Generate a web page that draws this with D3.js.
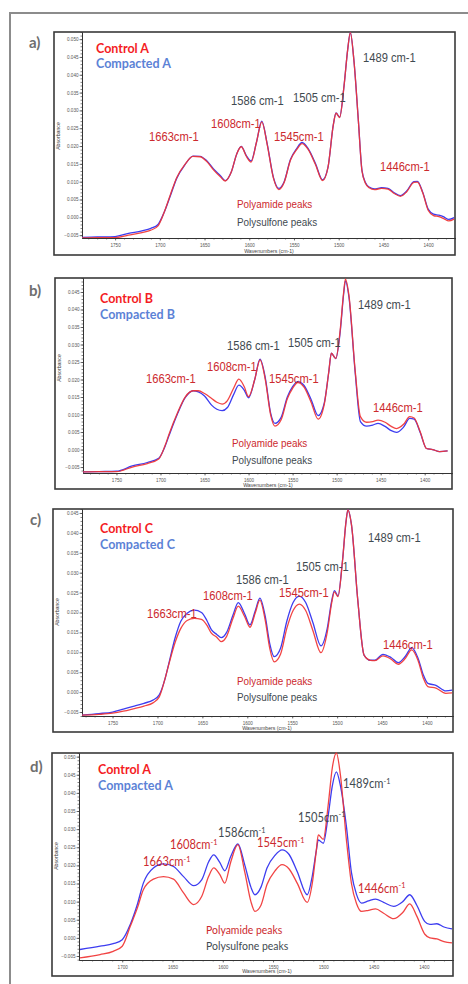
<!DOCTYPE html>
<html>
<head>
<meta charset="utf-8">
<script src="https://cdn.jsdelivr.net/npm/d3@7"></script>
<style>
  html, body { margin: 0; padding: 0; background: #fff; }
  svg { display: block; }
</style>
</head>
<body>
<svg id="fig" width="468" height="984"></svg>
<script>
// ---------------- FTIR spectra: absorbance vs wavenumber (cm-1) ----------------

// Panel a
const wavenumbersA = [1787,1770,1750,1735,1720,1710,1702,1695,1688,1681,1672,1663,1655,1648,1640,1632,1627,1620,1614,1609,1603,1598,1592,1586,1580,1573,1567,1561,1554,1547,1541,1534,1526,1518,1512,1506,1503,1499,1494,1490,1487,1483,1478,1474,1470,1466,1460,1452,1445,1438,1431,1424,1416,1412,1406,1400,1394,1388,1383,1377,1371];
const controlA   = [-0.0058,-0.0057,-0.0057,-0.0050,-0.0043,-0.0036,-0.0024,0.0015,0.0065,0.0112,0.0148,0.0171,0.0170,0.0158,0.0133,0.0113,0.0102,0.0128,0.0178,0.0198,0.0170,0.0155,0.0210,0.0268,0.0205,0.0110,0.0078,0.0098,0.0160,0.0190,0.0207,0.0190,0.0148,0.0103,0.0140,0.0260,0.0292,0.0280,0.0370,0.0470,0.0518,0.0440,0.0270,0.0130,0.0095,0.0083,0.0078,0.0081,0.0079,0.0067,0.0059,0.0072,0.0098,0.0099,0.0068,0.0020,0.0005,0.0002,-0.0003,-0.0010,-0.0005];
const compactedA = [-0.0056,-0.0055,-0.0054,-0.0045,-0.0038,-0.0031,-0.0020,0.0015,0.0062,0.0110,0.0147,0.0172,0.0171,0.0160,0.0136,0.0116,0.0103,0.0128,0.0178,0.0199,0.0172,0.0158,0.0210,0.0270,0.0207,0.0112,0.0081,0.0100,0.0162,0.0193,0.0210,0.0192,0.0151,0.0105,0.0140,0.0260,0.0293,0.0281,0.0370,0.0470,0.0518,0.0440,0.0270,0.0132,0.0097,0.0085,0.0080,0.0083,0.0081,0.0069,0.0061,0.0074,0.0100,0.0101,0.0070,0.0023,0.0009,0.0006,0.0002,-0.0006,-0.0001];

// Panel b
const wavenumbersB = [1788,1770,1750,1732,1715,1702,1695,1690,1681,1672,1663,1657,1650,1642,1636,1630,1624,1617,1611,1605,1600,1593,1587,1581,1575,1570,1563,1556,1550,1544,1537,1529,1521,1514,1509,1506,1501,1496,1492,1490,1486,1479,1473,1466,1459,1453,1445,1438,1432,1424,1417,1412,1405,1398,1391,1383,1374];
const controlB   = [-0.0064,-0.0063,-0.0063,-0.0050,-0.0040,-0.0027,0.0010,0.0046,0.0103,0.0150,0.0168,0.0168,0.0160,0.0146,0.0135,0.0130,0.0140,0.0175,0.0201,0.0180,0.0151,0.0200,0.0256,0.0200,0.0100,0.0067,0.0085,0.0145,0.0175,0.0191,0.0178,0.0135,0.0087,0.0130,0.0220,0.0275,0.0260,0.0340,0.0450,0.0487,0.0440,0.0227,0.0094,0.0078,0.0080,0.0084,0.0078,0.0066,0.0060,0.0072,0.0094,0.0090,0.0050,0.0003,0.0000,-0.0006,-0.0004];
const compactedB = [-0.0064,-0.0063,-0.0062,-0.0047,-0.0037,-0.0025,0.0008,0.0042,0.0100,0.0148,0.0168,0.0165,0.0153,0.0127,0.0115,0.0111,0.0120,0.0157,0.0184,0.0170,0.0148,0.0200,0.0258,0.0205,0.0105,0.0075,0.0092,0.0150,0.0180,0.0194,0.0183,0.0143,0.0097,0.0133,0.0220,0.0275,0.0260,0.0335,0.0445,0.0482,0.0435,0.0222,0.0080,0.0067,0.0070,0.0075,0.0066,0.0054,0.0049,0.0064,0.0089,0.0087,0.0048,0.0003,0.0000,-0.0006,-0.0004];

// Panel c
const wavenumbersC = [1785,1765,1750,1738,1727,1715,1705,1698,1692,1688,1680,1674,1667,1659,1651,1645,1640,1634,1629,1623,1616,1610,1603,1597,1591,1586,1580,1575,1570,1563,1556,1549,1542,1535,1527,1518,1511,1506,1503,1499,1494,1490,1488,1484,1477,1470,1463,1458,1449,1440,1432,1424,1417,1410,1404,1399,1390,1379,1372];
const controlC   = [-0.0058,-0.0056,-0.0053,-0.0048,-0.0042,-0.0035,-0.0027,-0.0012,0.0030,0.0064,0.0127,0.0160,0.0180,0.0185,0.0183,0.0168,0.0148,0.0138,0.0127,0.0140,0.0185,0.0216,0.0190,0.0163,0.0200,0.0231,0.0180,0.0110,0.0076,0.0095,0.0160,0.0205,0.0221,0.0205,0.0155,0.0099,0.0150,0.0225,0.0252,0.0240,0.0330,0.0430,0.0458,0.0420,0.0231,0.0093,0.0080,0.0079,0.0091,0.0083,0.0070,0.0085,0.0106,0.0080,0.0035,0.0014,0.0010,-0.0003,-0.0002];
const compactedC = [-0.0058,-0.0054,-0.0050,-0.0043,-0.0036,-0.0028,-0.0020,-0.0007,0.0030,0.0066,0.0139,0.0178,0.0198,0.0206,0.0200,0.0180,0.0157,0.0145,0.0137,0.0150,0.0193,0.0225,0.0197,0.0169,0.0205,0.0236,0.0190,0.0122,0.0089,0.0110,0.0178,0.0225,0.0241,0.0225,0.0175,0.0116,0.0160,0.0230,0.0255,0.0242,0.0330,0.0430,0.0458,0.0420,0.0231,0.0093,0.0080,0.0080,0.0095,0.0087,0.0074,0.0090,0.0112,0.0086,0.0043,0.0022,0.0017,0.0003,0.0005];

// Panel d
const wavenumbersD = [1742,1722,1709,1700,1692,1685,1679,1669,1659,1649,1639,1629,1621,1614,1609,1603,1598,1592,1585,1578,1572,1568,1562,1556,1548,1541,1534,1526,1516,1511,1507,1505,1500,1495,1491,1487,1483,1477,1472,1467,1462,1455,1448,1440,1430,1421,1414,1407,1399,1394,1387,1380,1372];
const controlD   = [-0.0055,-0.0046,-0.0037,-0.0023,0.0032,0.0082,0.0133,0.0162,0.0169,0.0162,0.0124,0.0092,0.0114,0.0170,0.0193,0.0175,0.0151,0.0210,0.0257,0.0180,0.0100,0.0073,0.0090,0.0147,0.0185,0.0202,0.0190,0.0151,0.0098,0.0150,0.0240,0.0284,0.0272,0.0370,0.0470,0.0510,0.0450,0.0270,0.0150,0.0095,0.0073,0.0076,0.0080,0.0068,0.0053,0.0070,0.0094,0.0060,0.0010,0.0000,-0.0003,-0.0010,-0.0014];
const compactedD = [-0.0032,-0.0023,-0.0016,-0.0005,0.0037,0.0092,0.0151,0.0193,0.0204,0.0197,0.0169,0.0144,0.0160,0.0210,0.0229,0.0208,0.0185,0.0225,0.0259,0.0200,0.0140,0.0119,0.0140,0.0193,0.0228,0.0243,0.0230,0.0183,0.0119,0.0170,0.0240,0.0270,0.0261,0.0340,0.0420,0.0458,0.0420,0.0307,0.0180,0.0120,0.0096,0.0102,0.0107,0.0098,0.0087,0.0100,0.0119,0.0090,0.0045,0.0037,0.0039,0.0030,0.0025];

// Axis tick labels
const yTicksA = [0.050,0.045,0.040,0.035,0.030,0.025,0.020,0.015,0.010,0.005,0.000,-0.005];
const yTicksB = [0.045,0.040,0.035,0.030,0.025,0.020,0.015,0.010,0.005,0.000,-0.005];
const yTicksC = [0.045,0.040,0.035,0.030,0.025,0.020,0.015,0.010,0.005,0.000,-0.005];
const yTicksD = [0.050,0.045,0.040,0.035,0.030,0.025,0.020,0.015,0.010,0.005,0.000,-0.005];
const xTicksABC = [1750,1700,1650,1600,1550,1500,1450,1400];
const xTicksD = [1700,1650,1600,1550,1500,1450,1400];

// Texts
const seriesNames = [
  ["Control A", "Compacted A"],
  ["Control B", "Compacted B"],
  ["Control C", "Compacted C"],
  ["Control A", "Compacted A"]
];
const panelLetters = ["a)", "b)", "c)", "d)"];
// peak names: [wavenumber text, group] — group "pa" polyamide (red), "ps" polysulfone (grey)
const peakNames = [
  ["1489", "ps"], ["1586", "ps"], ["1505", "ps"],
  ["1663", "pa"], ["1608", "pa"], ["1545", "pa"], ["1446", "pa"]
];
const groupNames = ["Polyamide peaks", "Polysulfone peaks"];

// ---------------- Layout ----------------
const layouts = [
  { frame:[54,32,455,255], plot:[82,32,455,238], xDomain:[1787,1370], yDomain:[-0.0058,0.052],
    letter:[29,47.5], legend:[[96,53],[96,68]],
    peaks:[[363,61.5],[231,104.5],[293,101.5],[149,141],[211,127.5],[274,141],[380,171]],
    groups:[[237,207.5],[237,225.5]], xTitle:[269,252.5], yTitle:[59.5,136] },
  { frame:[55,278,452,489], plot:[83,278,452,473], xDomain:[1788,1369], yDomain:[-0.0067,0.049],
    letter:[29,296], legend:[[100,303],[100,318.5]],
    peaks:[[358,309],[227,350],[288,346.5],[146,383],[207,371],[269,383],[373,411.5]],
    groups:[[232,446.5],[232,463.5]], xTitle:[268,486.5], yTitle:[60.5,368] },
  { frame:[53,509,453,732], plot:[82,509,453,716], xDomain:[1784,1371], yDomain:[-0.006,0.046],
    letter:[30,525], legend:[[100,533],[100,548.5]],
    peaks:[[368,541.5],[236,584],[296,571],[147,618],[203,600],[279,597],[383,648.5]],
    groups:[[237,684.5],[237,701]], xTitle:[267,729.5], yTitle:[58.5,612] },
  { frame:[52,753,453,976], plot:[79,753,453,960], xDomain:[1743,1371], yDomain:[-0.0061,0.051],
    letter:[30,771.5], legend:[[98,774],[98,789.5]],
    peaks:[[343,788],[218,837],[298,821.5],[143,866],[170,849],[257,847],[358,892.5]],
    groups:[[206,934],[206,950]], xTitle:[267,973], yTitle:[58,856] }
];

const panels = [
  { wn: wavenumbersA, control: controlA, compacted: compactedA, yTicks: yTicksA, xTicks: xTicksABC, sup: false },
  { wn: wavenumbersB, control: controlB, compacted: compactedB, yTicks: yTicksB, xTicks: xTicksABC, sup: false },
  { wn: wavenumbersC, control: controlC, compacted: compactedC, yTicks: yTicksC, xTicks: xTicksABC, sup: false },
  { wn: wavenumbersD, control: controlD, compacted: compactedD, yTicks: yTicksD, xTicks: xTicksD, sup: true }
];

const colors = {
  control: "#f03434", compacted: "#3d3df0",
  legendControl: "#f41c24", legendCompacted: "#5c82d6",
  pa: "#cc2a2e", ps: "#3f4a50", letter: "#6e6e6e",
  frame: "#3a3a3a", outer: "#8c8c8c", axis: "#333", tickText: "#555"
};

const svg = d3.select("#fig");

// outer border enclosing all four panels
svg.append("path")
  .attr("d", "M10,984 V13 H468")
  .attr("fill", "none").attr("stroke", colors.outer).attr("stroke-width", 2);

const fmt = d3.format(".3f");

panels.forEach((p, i) => {
  const L = layouts[i];
  const g = svg.append("g");

  g.append("rect")
    .attr("x", L.frame[0]).attr("y", L.frame[1])
    .attr("width", L.frame[2] - L.frame[0]).attr("height", L.frame[3] - L.frame[1])
    .attr("fill", "#fff").attr("stroke", colors.frame).attr("stroke-width", 1.6);

  const x = d3.scaleLinear().domain(L.xDomain).range([L.plot[0], L.plot[2]]);
  const y = d3.scaleLinear().domain(L.yDomain).range([L.plot[3], L.plot[1]]);

  // minor ticks
  const yMinor = d3.range(Math.ceil(L.yDomain[0] * 1000), Math.floor(L.yDomain[1] * 1000) + 1).map(v => v / 1000);
  const xMinor = d3.range(Math.ceil(L.xDomain[1] / 10) * 10, L.xDomain[0], 10);

  const yAxisG = g.append("g").attr("transform", `translate(${L.plot[0]},0)`);
  yAxisG.call(d3.axisLeft(y).tickValues(yMinor).tickSize(1.5).tickSizeOuter(0).tickFormat(""));
  yAxisG.append("g").call(d3.axisLeft(y).tickValues(p.yTicks).tickSize(2.5).tickSizeOuter(0).tickPadding(1).tickFormat(fmt));

  const xAxisG = g.append("g").attr("transform", `translate(0,${L.plot[3]})`);
  xAxisG.call(d3.axisBottom(x).tickValues(xMinor).tickSize(1.5).tickSizeOuter(0).tickFormat(""));
  xAxisG.append("g").call(d3.axisBottom(x).tickValues(p.xTicks).tickSize(2.5).tickSizeOuter(0).tickPadding(3).tickFormat(d3.format("d")));

  g.selectAll(".domain").attr("stroke", colors.axis).attr("stroke-width", 1);
  g.selectAll(".tick line").attr("stroke", colors.axis).attr("stroke-width", 0.6);
  g.selectAll(".tick text").attr("font-family", "Liberation Sans, Arial, sans-serif")
    .attr("font-size", 4.6).attr("fill", colors.tickText);

  // axis titles
  g.append("text").attr("x", L.xTitle[0]).attr("y", L.xTitle[1])
    .attr("text-anchor", "middle").attr("font-family", "Liberation Sans, Arial, sans-serif")
    .attr("font-size", 5.2).attr("fill", "#444").text("Wavenumbers (cm-1)");
  g.append("text").attr("transform", `translate(${L.yTitle[0]},${L.yTitle[1]}) rotate(-90)`)
    .attr("text-anchor", "middle").attr("font-family", "Liberation Sans, Arial, sans-serif")
    .attr("font-size", 5.2).attr("fill", "#444").text("Absorbance");

  // spectra
  const clipId = "clip" + i;
  g.append("clipPath").attr("id", clipId).append("rect")
    .attr("x", L.plot[0]).attr("y", L.plot[1] - 1)
    .attr("width", L.plot[2] - L.plot[0]).attr("height", L.plot[3] - L.plot[1] + 1);

  const line = d3.line().curve(d3.curveMonotoneX)
    .x(d => x(d[0])).y(d => y(d[1]));
  const blue = p.wn.map((w, k) => [w, p.compacted[k]]);
  const red = p.wn.map((w, k) => [w, p.control[k]]);
  const lines = g.append("g").attr("clip-path", `url(#${clipId})`);
  lines.append("path").datum(blue).attr("d", line)
    .attr("fill", "none").attr("stroke", colors.compacted).attr("stroke-width", 1.3);
  lines.append("path").datum(red).attr("d", line)
    .attr("fill", "none").attr("stroke", colors.control).attr("stroke-width", 1.3)
    .attr("stroke-opacity", 0.92);

  // panel letter
  g.append("text").attr("x", L.letter[0]).attr("y", L.letter[1])
    .attr("font-family", "Lato, sans-serif").attr("font-weight", 700)
    .attr("font-size", 15).attr("fill", colors.letter).text(panelLetters[i]);

  // legend
  const legendFill = [colors.legendControl, colors.legendCompacted];
  seriesNames[i].forEach((name, k) => {
    g.append("text")
      .attr("x", L.legend[k][0]).attr("y", L.legend[k][1])
      .attr("font-family", "Lato, sans-serif").attr("font-weight", 700)
      .attr("font-size", 12.5).attr("fill", legendFill[k]).text(name);
  });

  // peak annotations
  peakNames.forEach((pk, k) => {
    const t = g.append("text")
      .attr("transform", `translate(${L.peaks[k][0]},${L.peaks[k][1]}) scale(${p.sup ? 0.86 : 0.86},1)`)
      .attr("font-family", p.sup ? "Lato, sans-serif" : "Liberation Sans, Arial, sans-serif")
      .attr("font-size", 13).attr("fill", colors[pk[1]]);
    if (p.sup) {
      t.append("tspan").text(pk[0] + "cm");
      t.append("tspan").attr("font-size", 8.5).attr("dy", -4.5).text("-1");
    } else {
      t.text(pk[0] + (pk[1] === "ps" ? " cm-1" : "cm-1"));
    }
  });

  // peak group captions
  groupNames.forEach((name, k) => {
    g.append("text")
      .attr("transform", `translate(${L.groups[k][0]},${L.groups[k][1]}) scale(${p.sup ? 0.95 : 0.86},1)`)
      .attr("font-family", p.sup ? "Lato, sans-serif" : "Liberation Sans, Arial, sans-serif")
      .attr("font-size", p.sup ? 11 : 11.5)
      .attr("fill", k === 0 ? colors.pa : colors.ps).text(name);
  });
});
</script>
</body>
</html>
